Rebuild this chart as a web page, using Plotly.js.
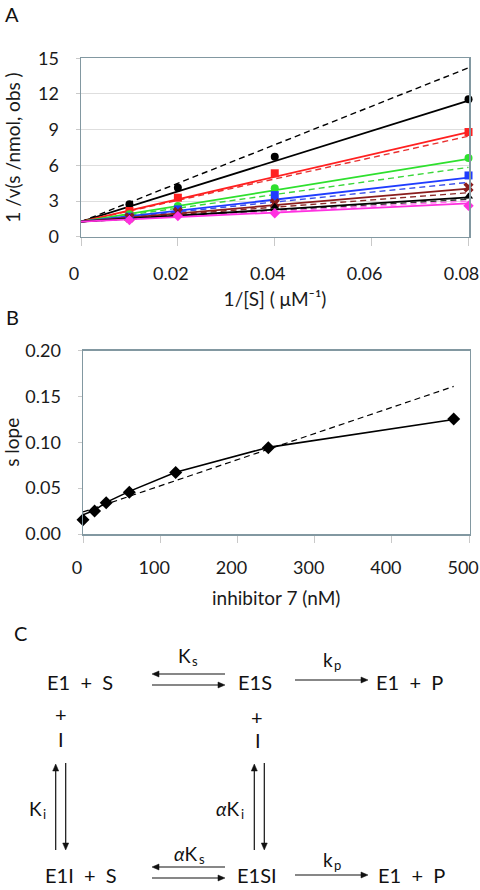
<!DOCTYPE html>
<html>
<head>
<meta charset="utf-8">
<script src="https://cdn.plot.ly/plotly-3.0.1.min.js"></script>
<style>html,body{margin:0;padding:0;background:#fff;}#chart{width:480px;height:890px;}</style>
</head>
<body>
<div id="chart"></div>
<script>
// ---------- Panel A data: Lineweaver–Burk ----------
const invS = [0.01, 0.02, 0.04, 0.08];
const blackCircle = [2.72, 4.12, 6.73, 11.55];
const redSquare = [2.16, 3.28, 5.33, 8.80];
const greenCircle = [1.88, 2.58, 4.07, 6.62];
const blueSquare = [1.68, 2.30, 3.50, 5.15];
const brownCross = [1.60, 2.08, 2.80, 4.15];
const blackTriangle = [1.55, 1.91, 2.52, 3.38];
const magentaDiamond = [1.40, 1.74, 1.97, 2.60];
const fitX = [0, 0.08];
const fitIntercept = 1.26;
const solidFitEnd = [11.45, 8.80, 6.55, 4.97, 4.04, 3.30, 2.80];
const dashedFitEnd = [14.20, 8.45, 5.83, 4.57, 3.70, 3.15, 3.00];
const xTickVals = [0, 0.02, 0.04, 0.06, 0.08];
const xTickText = ['0', '0.02', '0.04', '0.06', '0.08'];
const yTickVals = [0, 3, 6, 9, 12, 15];

// ---------- Panel B data: replot of slopes ----------
const inhibitorNM = [0, 15, 30, 60, 120, 240, 480];
const slopeObs = [0.0155, 0.025, 0.034, 0.0455, 0.067, 0.094, 0.1255];
const slopeCurve = [0.021, 0.026, 0.0345, 0.0465, 0.0675, 0.0945, 0.125];
const modelX = [0, 480];
const modelY = [0.024, 0.161];
const bxTickVals = [0, 100, 200, 300, 400, 500];
const byTickVals = [0, 0.05, 0.10, 0.15, 0.20];

// ---------- styles ----------
const seriesData = [blackCircle, redSquare, greenCircle, blueSquare, brownCross, blackTriangle, magentaDiamond];
const seriesColor = ['#000000', '#ff2020', '#2ee02e', '#1f3cff', '#8a1c1c', '#000000', '#ff30e0'];
const dashColor = ['#000000', '#e83030', '#3ad83a', '#3a4fe8', '#8a2a2a', '#333333', '#ff70ee'];
const seriesSymbol = ['circle', 'square', 'circle', 'square', 'x', 'triangle-up', 'diamond'];
const FONT = 'Lato, "Open Sans", "DejaVu Sans", sans-serif';
const FRAME = '#8298a1';
const W = 480, H = 890;
const px = x => x / W;
const py = y => 1 - y / H;

const traces = [];
dashedFitEnd.forEach((e, i) => {
  traces.push({x: fitX, y: [fitIntercept, e], xaxis: 'x', yaxis: 'y', mode: 'lines',
    line: {color: dashColor[i], width: 1.4, dash: '6px,4px'}, hoverinfo: 'skip'});
});
solidFitEnd.forEach((e, i) => {
  traces.push({x: fitX, y: [fitIntercept, e], xaxis: 'x', yaxis: 'y', mode: 'lines',
    line: {color: seriesColor[i], width: 1.8}, hoverinfo: 'skip'});
});
seriesData.forEach((d, i) => {
  traces.push({x: invS, y: d, xaxis: 'x', yaxis: 'y', mode: 'markers', cliponaxis: false,
    marker: {color: seriesColor[i], symbol: seriesSymbol[i], size: seriesSymbol[i] === 'x' ? 9 : 8,
      line: {width: 0}}});
});
traces.push({x: modelX, y: modelY, xaxis: 'x2', yaxis: 'y2', mode: 'lines',
  line: {color: '#000', width: 1.2, dash: '6px,4px'}, hoverinfo: 'skip'});
traces.push({x: inhibitorNM, y: slopeCurve, xaxis: 'x2', yaxis: 'y2', mode: 'lines',
  line: {color: '#000', width: 1.6}, hoverinfo: 'skip'});
traces.push({x: inhibitorNM, y: slopeObs, xaxis: 'x2', yaxis: 'y2', mode: 'markers', cliponaxis: false,
  marker: {color: '#000', symbol: 'diamond', size: 10}});

// ---------- scheme C ----------
const ann = [];
const shapes = [];
function txt(x, y, text, size, extra) {
  ann.push(Object.assign({xref: 'paper', yref: 'paper', x: px(x), y: py(y), text: text, showarrow: false,
    xanchor: 'center', yanchor: 'middle', borderpad: 0,
    font: {family: FONT, size: size || 20, color: '#111'}}, extra || {}));
}
// constant with subscript: main text ends at xs, subscript starts at xs
function constTxt(xs, y, main, sub) {
  txt(xs, y, main, 19, {xanchor: 'right'});
  txt(xs - 1.5, y + 6, sub, 13, {xanchor: 'left'});
}
function arrow(x0, y0, x1, y1) {
  const len = Math.hypot(x1 - x0, y1 - y0);
  const ux = (x1 - x0) / len, uy = (y1 - y0) / len;
  const hl = 7, hw = 3;
  const bx = x1 - ux * hl, by = y1 - uy * hl;
  shapes.push({type: 'line', xref: 'paper', yref: 'paper', x0: px(x0), y0: py(y0), x1: px(bx), y1: py(by),
    line: {color: '#111', width: 1.2}});
  const p1 = [bx - uy * hw, by + ux * hw], p2 = [bx + uy * hw, by - ux * hw];
  shapes.push({type: 'path', xref: 'paper', yref: 'paper',
    path: `M ${px(x1)} ${py(y1)} L ${px(p1[0])} ${py(p1[1])} L ${px(p2[0])} ${py(p2[1])} Z`,
    fillcolor: '#111', line: {color: '#111', width: 0.5}});
}
txt(12, 14, 'A', 20);
txt(12, 317, 'B', 20);
txt(20, 633, 'C', 20);

txt(80, 682, 'E1\u00a0 +\u00a0 S');
txt(255, 682, 'E1S');
txt(409, 682, 'E1\u00a0 +\u00a0 P');
constTxt(192, 655, 'K', 's');
constTxt(334, 659, 'k', 'p');
arrow(225, 674, 152, 674);
arrow(152, 685, 225, 685);
arrow(295, 680, 368, 680);

txt(61, 714, '+');
txt(61, 739, 'I');
txt(257, 717, '+');
txt(258, 740, 'I');
arrow(55.7, 850, 55.7, 764);
arrow(65.7, 763, 65.7, 850);
arrow(254.3, 850, 254.3, 764);
arrow(264.3, 763, 264.3, 850);
constTxt(43, 808, 'K', 'i');
constTxt(241, 808, '<i>α</i>K', 'i');

txt(81, 875, 'E1I\u00a0 +\u00a0 S');
txt(257, 875, 'E1SI');
txt(411, 875, 'E1\u00a0 +\u00a0 P');
constTxt(199, 853, '<i>α</i>K', 's');
constTxt(334, 859, 'k', 'p');
arrow(225, 867, 152, 867);
arrow(152, 878, 225, 878);
arrow(295, 875, 368, 875);

const axisCommon = {showline: true, mirror: true, linecolor: FRAME, linewidth: 1.5, zeroline: false,
  ticks: 'outside', tickcolor: '#c9c9c9', tickwidth: 1, ticklabeloverflow: 'allow',
  tickfont: {family: FONT, size: 18, color: '#1a1a1a'}};

const layout = {
  width: W, height: H, margin: {l: 0, r: 0, t: 0, b: 0, autoexpand: false},
  paper_bgcolor: '#fff', plot_bgcolor: '#fff', showlegend: false,
  font: {family: FONT, size: 18, color: '#1a1a1a'},
  xaxis: Object.assign({}, axisCommon, {domain: [px(81), px(469)], range: [0, 0.0801], anchor: 'y',
    automargin: 'height',
    tickvals: xTickVals, ticktext: xTickText, ticklen: 8, showgrid: false, ticklabelstandoff: 12,
    ticklabelshift: -7,
    title: {text: '1/[S] ( μM\u207B\u00B9)', font: {family: FONT, size: 19}, standoff: 10}}),
  yaxis: Object.assign({}, axisCommon, {domain: [py(236.7), py(58.3)], range: [0, 15], anchor: 'x',
    automargin: true,
    tickvals: yTickVals, ticklen: 4, showgrid: true, gridcolor: '#dedede', gridwidth: 1, ticklabelstandoff: 13,
    title: {text: '1 /v(s /nmol, obs )', font: {family: FONT, size: 19}, standoff: 12}}),
  xaxis2: Object.assign({}, axisCommon, {domain: [px(83), px(469.5)], range: [0, 500.5], anchor: 'y2',
    automargin: 'height',
    tickvals: bxTickVals, ticklen: 7, showgrid: false, ticklabelstandoff: 10, ticklabelshift: -6,
    title: {text: 'inhibitor 7 (nM)', font: {family: FONT, size: 19}, standoff: 14}}),
  yaxis2: Object.assign({}, axisCommon, {domain: [py(534), py(350.7)], range: [0, 0.2], anchor: 'x2',
    automargin: true,
    tickvals: byTickVals, tickformat: '.2f', ticklen: 4, showgrid: false, ticklabelstandoff: 13,
    title: {text: 's lope', font: {family: FONT, size: 19}, standoff: 4}}),
  annotations: ann,
  shapes: shapes
};

Plotly.newPlot('chart', traces, layout, {displayModeBar: false, staticPlot: true});
</script>
</body>
</html>
